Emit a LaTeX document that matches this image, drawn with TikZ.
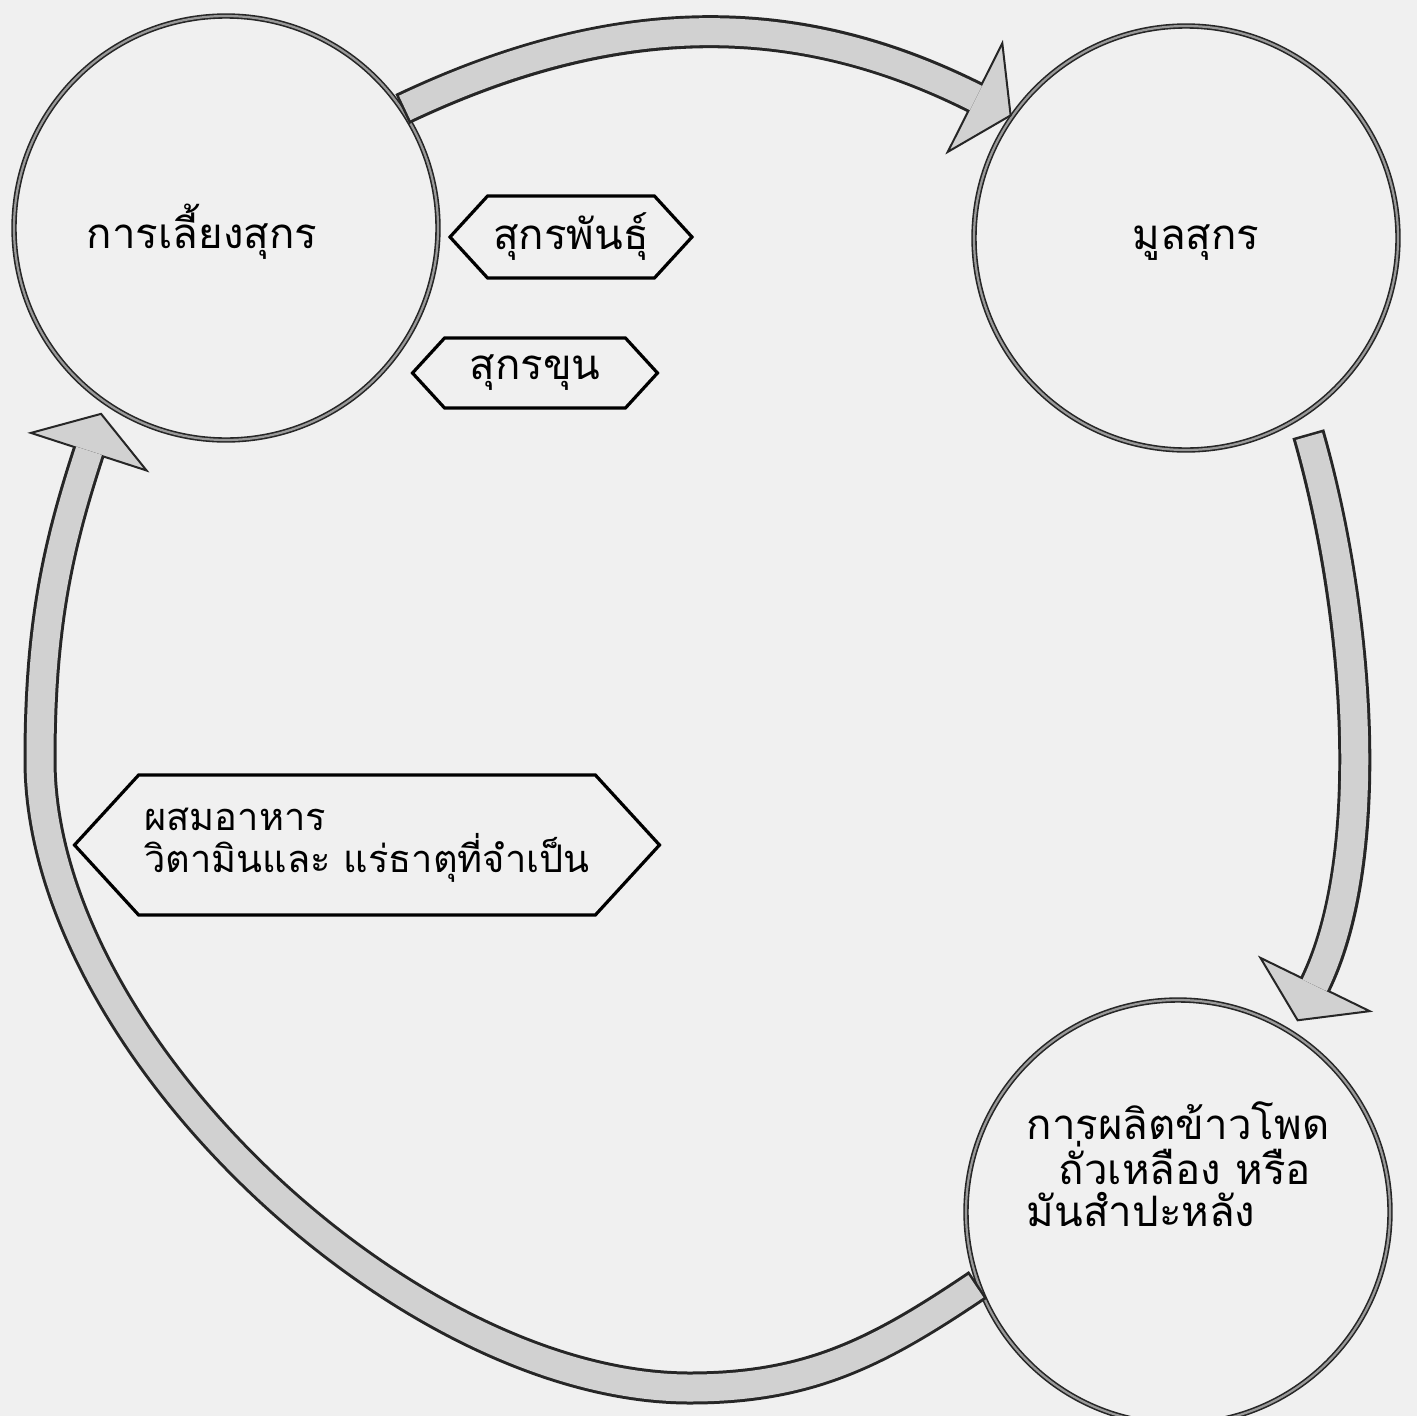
\documentclass[tikz,border=0pt]{standalone}
\usepackage{fontspec}
\newfontfamily\thaifont[Script=Thai]{Loma}
\usetikzlibrary{shapes.symbols,arrows.meta,calc}

\tikzset{
  stage/.style={circle, minimum size=424pt, draw=black!85, line width=1.6pt,
    double=black!40, double distance=2.2pt},
  stagetext/.style={font=\thaifont\fontsize{42}{42}\selectfont, align=left},
  factor/.style={signal, signal to=east and west, signal pointer angle=95,
    draw=black, line width=3.2pt, inner sep=0pt,
    font=\thaifont\fontsize{42}{42}\selectfont, align=left},
  flowrim/.style={draw=black!85, line width=33pt,
    -{Triangle[width=128pt 0, length=42pt 0, line width=2pt 0, fill=black!18]}},
  flowbody/.style={draw=black!18, line width=27pt, shorten <=2.6pt, shorten >=40pt},
}

\begin{document}
\begin{tikzpicture}[x=1pt, y=1pt]
    \useasboundingbox (0,0) rectangle (1417,-1416);
    \fill[black!6] (0,0) rectangle (1417,-1416);

    % the three stages of the cycle
    \node[stage, label={[stagetext, shift={(-24,-4)}]center:การเลี้ยงสุกร}] (pig) at (226,-228) {};
    \node[stage, label={[stagetext, shift={(10,-5)}]center:มูลสุกร}] (manure) at (1186,-238) {};
    \node[stage, label={[stagetext, yshift=48]center:{การผลิตข้าวโพด\\\hspace*{32pt}ถั่วเหลือง หรือ\\มันสำปะหลัง}}] (crop) at (1178,-1212) {};

    % inputs
    \node[factor, minimum width=242pt, minimum height=82pt] (breed) at (571,-237) {สุกรพันธุ์};
    \node[factor, minimum width=245pt, minimum height=70pt] (fatten) at (535,-373) {สุกรขุน};
    \node[factor, minimum width=585pt, minimum height=140pt,
      font=\thaifont\fontsize{38}{42}\selectfont] (feed) at (367,-845) {ผสมอาหาร\\วิตามินและ แร่ธาตุที่จำเป็น};

    \coordinate (manureout) at ($(manure.302)!-18pt!(manure.center)$);
    \coordinate (cropin) at ($(crop.58)!-12pt!(crop.center)$);
    \coordinate (pigin) at ($(pig.236)!-10pt!(pig.center)$);
    \coordinate (loopbot) at (690,-1388);
    \coordinate (loopleft) at (40,-760);

    % pig -> manure
    \draw[flowrim] (pig.34) to[bend left=26] (manure.145);
    \draw[flowbody] (pig.34) to[bend left=26] (manure.145);
    % manure -> crop
    \draw[flowrim] (manureout) to[out=286, in=64, looseness=0.8] (cropin);
    \draw[flowbody] (manureout) to[out=286, in=64, looseness=0.8] (cropin);
    % crop -> back to pig
    \draw[flowrim] (crop.200) to[out=214, in=0] (loopbot) to[out=180, in=-90, looseness=0.8] (loopleft) to[out=90, in=252] (pigin);
    \draw[flowbody] (crop.200) to[out=214, in=0] (loopbot) to[out=180, in=-90, looseness=0.8] (loopleft) to[out=90, in=252] (pigin);
\end{tikzpicture}
\end{document}
